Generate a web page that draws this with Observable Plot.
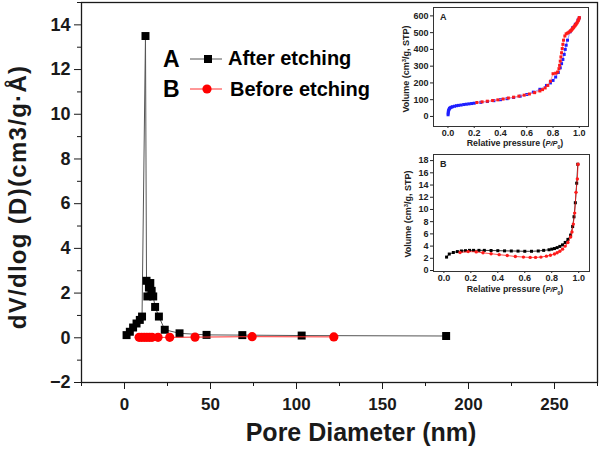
<!DOCTYPE html>
<html><head><meta charset="utf-8">
<script src="https://cdn.jsdelivr.net/npm/d3@7"></script>
<script src="https://cdn.jsdelivr.net/npm/@observablehq/plot@0.6"></script>
<style>
body{margin:0;background:#fff;}
#wrap{position:relative;width:600px;height:450px;}
#wrap svg{position:absolute;overflow:visible;}
</style></head><body><div id="wrap"></div>
<script>
// ---- main chart data: pore size distribution ----
const afterD = [1.2, 3.1, 5, 7, 8.9, 10.2, 12.2, 12.8, 13.3, 14.2, 15, 15.8, 16.7, 17.8, 20, 23.4, 32, 47.7, 68.5, 103, 187];
const afterV = [0.12, 0.27, 0.46, 0.64, 0.8, 0.95, 13.5, 2.55, 1.85, 2.25, 2.45, 2.1, 1.85, 1.38, 0.95, 0.36, 0.2, 0.13, 0.12, 0.1, 0.08];
const beforeD = [8.5, 10, 11.5, 13, 14.5, 16, 19.5, 26.3, 41, 74.2, 121.7];
const beforeV = [0.02, 0.02, 0.02, 0.02, 0.02, 0.02, 0.02, 0.02, 0.03, 0.05, 0.04];
const xMajor = [0, 50, 100, 150, 200, 250];
const xMinor = [-25, 25, 75, 125, 175, 225, 275];
const yMajor = [-2, 0, 2, 4, 6, 8, 10, 12, 14];
const yMinor = [-1, 1, 3, 5, 7, 9, 11, 13, 15];

// ---- inset A: isotherm after etching ----
const aAdsP = [0.001,0.002,0.003,0.005,0.008,0.012,0.018,0.025,0.035,0.05,0.065,0.08,0.1,0.12,0.14,0.16,0.18,0.2,0.25,0.3,0.35,0.4,0.45,0.5,0.55,0.6,0.65,0.7,0.75,0.78,0.8,0.82,0.84,0.855,0.865,0.875,0.885,0.893,0.9,0.91,0.93,0.95,0.97,0.99,1.0];
const aAdsV = [10,20,28,35,42,48,52,55,58,61,64,66,68,71,73,75,77,79,84,89,94,100,106,113,121,131,145,162,185,200,215,235,262,290,315,340,370,400,425,455,505,530,550,575,588];
const aDesP = [1.0,0.997,0.993,0.99,0.985,0.98,0.975,0.97,0.965,0.96,0.955,0.95,0.945,0.94,0.935,0.93,0.92,0.91,0.9,0.89,0.88,0.875,0.87,0.865,0.86,0.855,0.85,0.845,0.835,0.82,0.8,0.78,0.76,0.74,0.72,0.7,0.66,0.62,0.58,0.54,0.5,0.46,0.42,0.38,0.34,0.3,0.26,0.22];
const aDesV = [590,582,575,570,562,556,550,545,540,535,530,525,520,515,512,508,502,497,493,480,455,430,405,380,355,330,305,285,265,258,255,210,185,170,160,152,142,134,127,121,115,110,104,99,95,91,87,83];
const aYTicks = [0, 100, 200, 300, 400, 500, 600];
const pTicks = [0, 0.2, 0.4, 0.6, 0.8, 1.0];

// ---- inset B: isotherm before etching ----
const bAdsP = [0.02,0.04,0.07,0.1,0.13,0.16,0.19,0.22,0.26,0.3,0.35,0.4,0.45,0.5,0.55,0.6,0.65,0.7,0.74,0.78,0.8,0.82,0.84,0.86,0.88,0.9,0.92,0.94,0.955,0.965,0.975,0.985,0.993];
const bAdsV = [2.2,2.7,2.95,3.1,3.2,3.25,3.3,3.3,3.3,3.3,3.28,3.25,3.22,3.2,3.18,3.15,3.15,3.2,3.3,3.4,3.5,3.6,3.75,3.95,4.2,4.6,5.1,5.8,7.2,8.8,11.1,14.3,17.4];
const bDesP = [0.995,0.99,0.98,0.97,0.96,0.95,0.94,0.92,0.9,0.88,0.86,0.84,0.82,0.79,0.76,0.72,0.68,0.64,0.59,0.53,0.47,0.41,0.35,0.29,0.24,0.18,0.12];
const bDesV = [17.4,15,12.8,9.4,7.6,6.3,5.5,4.6,4.0,3.5,3.15,2.9,2.7,2.5,2.35,2.2,2.15,2.15,2.2,2.3,2.45,2.6,2.75,2.9,3.05,3.1,2.95];
const bYTicks = [0, 2, 4, 6, 8, 10, 12, 14, 16, 18];

const FONT = "'Liberation Sans', Arial, Helvetica, sans-serif";
const zip = (xs, ys) => xs.map((x, i) => ({x, y: ys[i]}));
const wrap = document.getElementById("wrap");
const place = (svg, left, top) => { svg.style.left = left + "px"; svg.style.top = top + "px"; wrap.appendChild(svg); return svg; };

// ---------- main chart ----------
const after = zip(afterD, afterV);
const before = zip(beforeD, beforeV);
const main = Plot.plot({
  width: 600, height: 450,
  marginLeft: 81, marginRight: 3, marginTop: 2, marginBottom: 68,
  style: {fontFamily: FONT, color: "#1a1a1a", background: "transparent"},
  x: {domain: [-25, 275]},
  y: {domain: [-2, 15]},
  marks: [
    Plot.axisX({ticks: xMinor, tickSize: 4, tickFormat: () => "", label: null}),
    Plot.axisX({ticks: xMajor, tickSize: 7, tickPadding: 8, fontSize: 17, fontWeight: "bold", label: null}),
    Plot.axisY({ticks: yMinor, tickSize: 4, tickFormat: () => "", label: null}),
    Plot.axisY({ticks: yMajor, tickSize: 7, tickPadding: 4, fontSize: 18, fontWeight: "bold", label: null}),
    Plot.line(after, {x: "x", y: "y", stroke: "#555", strokeWidth: 1}),
    Plot.dot(after, {x: "x", y: "y", symbol: "square", r: 4.5, fill: "#000", stroke: "none"}),
    Plot.line(before, {x: "x", y: "y", stroke: "#ff3030", strokeWidth: 1}),
    Plot.dot(before, {x: "x", y: "y", symbol: "circle", r: 4.6, fill: "#ff0000", stroke: "none"}),
    Plot.frame({stroke: "#1a1a1a", strokeWidth: 1.3})
  ]
});
place(main, 0, 0);
const ms = d3.select(main);
ms.append("text").attr("transform", "translate(18,197) rotate(-90)")
  .attr("text-anchor", "middle").attr("dy", "0.35em")
  .attr("font-size", 24).attr("font-weight", "bold").attr("letter-spacing", 1.3)
  .attr("fill", "#1a1a1a").text("dV/dlog (D)(cm3/g\u00B7\u00C5)");
ms.append("text").attr("x", 361).attr("y", 441).attr("text-anchor", "middle")
  .attr("font-size", 25).attr("font-weight", "bold").attr("fill", "#1a1a1a").text("Pore Diameter (nm)");
// legend
const lg = ms.append("g").attr("font-weight", "bold").attr("fill", "#000").attr("text-anchor", "start");
lg.append("text").attr("x", 163).attr("y", 67).attr("font-size", 23).text("A");
lg.append("text").attr("x", 163).attr("y", 97).attr("font-size", 23).text("B");
lg.append("line").attr("x1", 190).attr("x2", 222).attr("y1", 59).attr("y2", 59).attr("stroke", "#555");
lg.append("rect").attr("x", 204).attr("y", 55).attr("width", 8).attr("height", 8).attr("fill", "#000");
lg.append("text").attr("x", 228).attr("y", 65).attr("font-size", 20).text("After etching");
lg.append("line").attr("x1", 190).attr("x2", 222).attr("y1", 89).attr("y2", 89).attr("stroke", "#ff3030");
lg.append("circle").attr("cx", 207).attr("cy", 89).attr("r", 4.6).attr("fill", "#ff0000");
lg.append("text").attr("x", 230).attr("y", 96).attr("font-size", 20).text("Before etching");

// ---------- insets ----------
function inset({w, h, mL, mR, mT, mB, xDom, yDom, yTicks, series, tag, xlabY, ylabX, ylabY}) {
  const marks = [
    Plot.axisX({ticks: pTicks, tickSize: 2, tickPadding: 1, fontSize: 9, fontWeight: "bold", tickFormat: d3.format(".1f"), label: null}),
    Plot.axisY({ticks: yTicks, tickSize: 3, tickPadding: 2, fontSize: 9, fontWeight: "bold", label: null}),
  ];
  for (const s of series) {
    const d = zip(s.xs, s.ys);
    marks.push(Plot.line(d, {x: "x", y: "y", stroke: s.line, strokeWidth: 0.8}));
    marks.push(Plot.dot(d, {x: "x", y: "y", symbol: s.symbol, r: 1.7, fill: s.color, stroke: "none"}));
  }
  marks.push(Plot.frame({stroke: "#333", strokeWidth: 1}));
  const svg = Plot.plot({
    width: w, height: h, marginLeft: mL, marginRight: mR, marginTop: mT, marginBottom: mB,
    style: {fontFamily: FONT, color: "#222", background: "transparent"},
    x: {domain: xDom}, y: {domain: yDom}, marks
  });
  const s = d3.select(svg);
  s.append("text").attr("x", mL + 7).attr("y", mT + 13).attr("text-anchor", "start")
    .attr("font-size", 9).attr("font-weight", "bold").attr("fill", "#222").text(tag);
  const xl = s.append("text").attr("x", 125).attr("y", xlabY).attr("text-anchor", "middle")
    .attr("font-size", 8.8).attr("font-weight", "bold").attr("fill", "#222");
  xl.append("tspan").text("Relative pressure (");
  xl.append("tspan").attr("font-style", "italic").attr("font-size", 7.5).text("P/P");
  xl.append("tspan").attr("font-size", 5).attr("baseline-shift", "sub").text("0");
  xl.append("tspan").text(")");
  const yl = s.append("text").attr("transform", `translate(${ylabX},${ylabY}) rotate(-90)`).attr("text-anchor", "middle")
    .attr("font-size", 9).attr("font-weight", "bold").attr("fill", "#222");
  yl.append("tspan").text("Volume (cm");
  yl.append("tspan").attr("font-size", 6).attr("baseline-shift", "super").text("3");
  yl.append("tspan").text("/g, STP)");
  return svg;
}

place(inset({
  w: 210, h: 150, mL: 43, mR: 12, mT: 7, mB: 24,
  xDom: [-0.11, 1.07], yDom: [-60, 650], yTicks: aYTicks, tag: "A",
  xlabY: 146, ylabX: 19, ylabY: 69,
  series: [
    {xs: aAdsP, ys: aAdsV, color: "#1f1fff", line: "#8080ff", symbol: "square"},
    {xs: aDesP, ys: aDesV, color: "#ff1a1a", line: "#ff8080", symbol: "square"}
  ]
}), 390, 0);

place(inset({
  w: 210, h: 155, mL: 43, mR: 11, mT: 9, mB: 29,
  xDom: [-0.077, 1.08], yDom: [-0.16, 19], yTicks: bYTicks, tag: "B",
  xlabY: 147, ylabX: 21, ylabY: 69,
  series: [
    {xs: bAdsP, ys: bAdsV, color: "#000", line: "#000", symbol: "square"},
    {xs: bDesP, ys: bDesV, color: "#ff1a1a", line: "#ff1a1a", symbol: "circle"}
  ]
}), 390, 145);
</script></body></html>
